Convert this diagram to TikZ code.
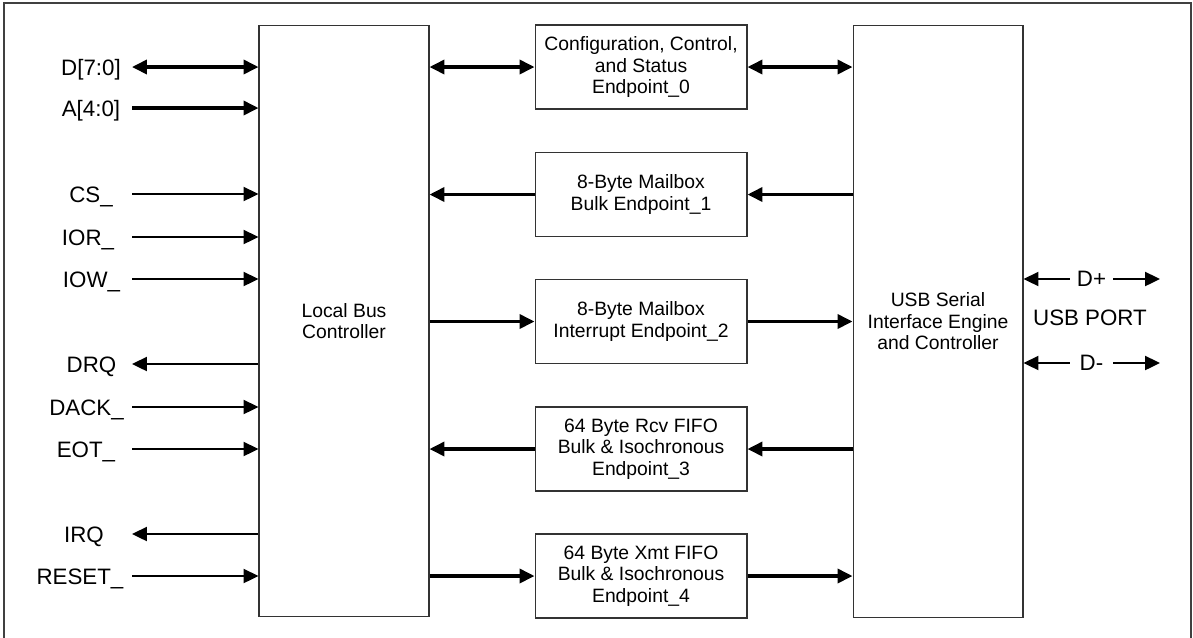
\documentclass[tikz,border=0pt]{standalone}
\usepackage{fontspec}
\setmainfont{Liberation Sans}
\usetikzlibrary{arrows.meta}
\tikzset{
  blk/.style={draw=black!80, line width=0.6pt, align=center, inner sep=0pt,
    font=\fontsize{11}{12.2}\selectfont},
  pin/.style={font=\fontsize{12.7}{15}\selectfont, inner sep=0pt},
  bus/.style={line width=1.9pt},
  sig/.style={line width=1.1pt},
  tolbc/.style={->},
  fromlbc/.style={<-},
}
\begin{document}
\begin{tikzpicture}[x=0.02cm, y=-0.02cm, >={Triangle[length=8.5pt,width=8pt]}]
  \useasboundingbox (0,0) rectangle (1193,637);
  \draw [black!75, line width=0.8pt] (4,650) -- (4,3) -- (1191,3) -- (1191,650);

  % main blocks
  \node [blk, minimum width=3.4cm, minimum height=11.84cm] (lbc) at (344,321) {Local Bus\\Controller};
  \node [blk, minimum width=3.4cm, minimum height=11.86cm] (sie) at (938,321.5) {USB Serial\\Interface Engine\\and Controller};

  % endpoints
  \node [blk, minimum width=4.24cm, minimum height=1.68cm] (ep0) at (641,67) {Configuration, Control,\\and Status\\Endpoint\_0};
  \node [blk, minimum width=4.24cm, minimum height=1.68cm] (ep1) at (641,194.5) {8-Byte Mailbox\\Bulk Endpoint\_1};
  \node [blk, minimum width=4.24cm, minimum height=1.68cm] (ep2) at (641,321.5) {8-Byte Mailbox\\Interrupt Endpoint\_2};
  \node [blk, minimum width=4.24cm, minimum height=1.68cm] (ep3) at (641,449) {64 Byte Rcv FIFO\\Bulk \& Isochronous\\Endpoint\_3};
  \node [blk, minimum width=4.24cm, minimum height=1.68cm] (ep4) at (641,576) {64 Byte Xmt FIFO\\Bulk \& Isochronous\\Endpoint\_4};

  \draw [bus,<->] (lbc.east |- ep0) -- (ep0.west);
  \draw [bus,<->] (ep0.east) -- (sie.west |- ep0);
  \draw [bus,<-] (lbc.east |- ep1) -- (ep1.west);
  \draw [bus,<-] (ep1.east) -- (sie.west |- ep1);
  \draw [bus,->] (lbc.east |- ep2) -- (ep2.west);
  \draw [bus,->] (ep2.east) -- (sie.west |- ep2);
  \draw [bus,<-] (lbc.east |- ep3) -- (ep3.west);
  \draw [bus,<-] (ep3.east) -- (sie.west |- ep3);
  \draw [bus,->] (lbc.east |- ep4) -- (ep4.west);
  \draw [bus,->] (ep4.east) -- (sie.west |- ep4);

  % local bus pins
  \node [pin, anchor=base] (ldat) at (91,75) {D[7:0]};
  \node [pin, anchor=base] (ladr) at (91,116) {A[4:0]};
  \coordinate (pdat) at (132,67);
  \coordinate (padr) at (132,108);
  \draw [bus,<->] (pdat) -- (pdat -| lbc.west);
  \draw [bus,->] (padr) -- (padr -| lbc.west);
  \foreach \nm/\lx/\yy/\dir in {CS\_/91/194/tolbc, IOR\_/88/237/tolbc, IOW\_/91.5/279/tolbc,
      DRQ/91.5/364/fromlbc, DACK\_/86.5/407/tolbc, EOT\_/86/449/tolbc,
      IRQ/84/534/fromlbc, RESET\_/80/576/tolbc}
  {
    \node [pin, anchor=base] (l\yy) at (\lx,{\yy+8}) {\nm};
    \coordinate (p\yy) at (132,\yy);
    \draw [sig,\dir] (p\yy) -- (p\yy -| lbc.west);
  }

  % usb port
  \node [pin, minimum width=0.86cm] (dp) at (1091.5,279) {D+};
  \node [pin, minimum width=0.86cm] (dm) at (1091.5,363) {D-};
  \coordinate (dpR) at (1160,279);
  \coordinate (dmR) at (1160,363);
  \draw [sig,<-] (sie.east |- dp) -- (dp.west);
  \draw [sig,->] (dp.east) -- (dpR);
  \draw [sig,<-] (sie.east |- dm) -- (dm.west);
  \draw [sig,->] (dm.east) -- (dmR);
  \node [pin] (port) at (1090,318) {USB PORT};
\end{tikzpicture}
\end{document}
